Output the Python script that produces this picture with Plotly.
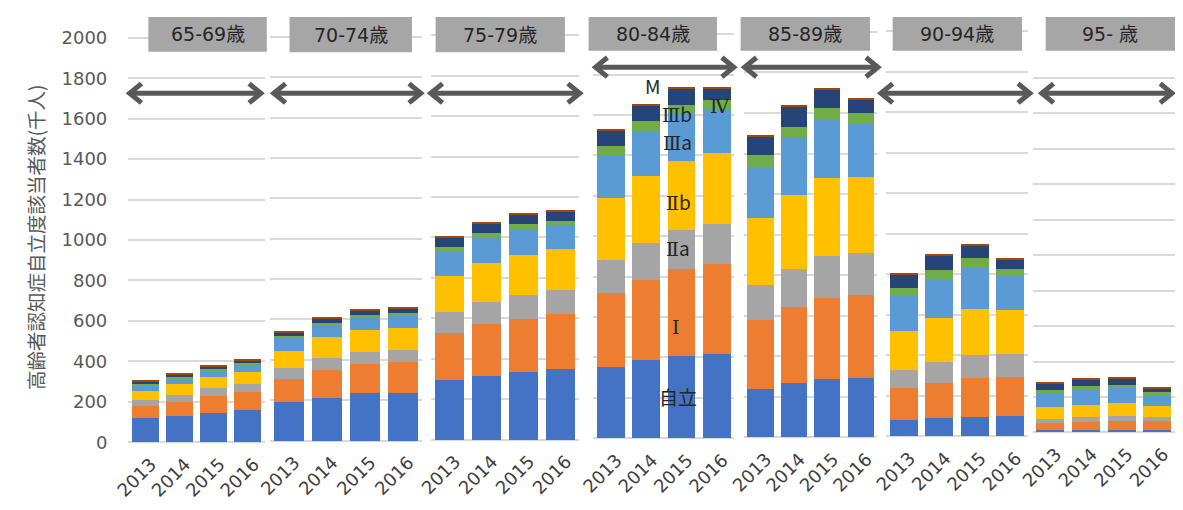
import plotly.graph_objects as go

# page is 1183x510; the browser's default 8px body margin surrounds the figure
PAGE_W, PAGE_H = 1183, 510
OFF = 8
W, H = PAGE_W - 2 * OFF, PAGE_H - 2 * OFF

years = ["2013", "2014", "2015", "2016"]
age_groups = ["65-69歳", "70-74歳", "75-79歳", "80-84歳", "85-89歳", "90-94歳", "95- 歳"]
levels = ["自立", "Ⅰ", "Ⅱa", "Ⅱb", "Ⅲa", "Ⅲb", "Ⅳ", "M"]
colors = ["#4472C4", "#ED7D31", "#A5A5A5", "#FFC000", "#5B9BD5", "#70AD47", "#264478", "#9E480E"]

# values (thousand persons), 7 age groups x 4 years, group-major order
v_jiritsu = [119, 132, 146, 161, 189, 213, 234, 238, 297, 316, 337, 348, 355, 385, 408, 419,
             238, 269, 285, 294, 81, 91, 97, 100, 16, 16, 16, 16]
v_1 = [61, 69, 81, 86, 118, 139, 144, 151, 230, 257, 261, 274, 366, 400, 428, 441,
       342, 372, 400, 410, 159, 173, 192, 194, 38, 42, 46, 46]
v_2a = [27, 35, 40, 39, 55, 59, 62, 61, 103, 108, 116, 119, 163, 183, 197, 202,
        169, 190, 207, 207, 87, 103, 113, 113, 24, 31, 32, 27]
v_2b = [45, 50, 56, 61, 84, 101, 106, 107, 178, 192, 200, 202, 307, 328, 341, 349,
        331, 366, 385, 375, 193, 218, 228, 215, 67, 67, 73, 62]
v_3a = [32, 30, 34, 35, 61, 61, 67, 65, 119, 125, 127, 119, 210, 226, 236, 218,
        252, 278, 287, 258, 173, 192, 203, 167, 75, 85, 85, 61]
v_3b = [4, 9, 6, 8, 10, 9, 9, 8, 24, 23, 24, 22, 45, 46, 41, 43,
        59, 58, 59, 55, 40, 45, 45, 38, 21, 22, 17, 17]
v_4 = [15, 13, 15, 16, 19, 24, 24, 26, 47, 46, 45, 41, 75, 80, 78, 59,
       89, 95, 91, 69, 65, 70, 63, 46, 35, 36, 34, 16]
v_m = [3, 3, 4, 5, 5, 5, 5, 5, 8, 8, 6, 7, 9, 8, 7, 9,
       10, 10, 9, 6, 8, 9, 7, 5, 5, 6, 6, 7]
series = [v_jiritsu, v_1, v_2a, v_2b, v_3a, v_3b, v_4, v_m]

y_ticks = list(range(0, 2001, 200))

# ---- layout geometry (page pixels) ----
# each panel: x_left, x_right (category range edges), y of value 0, y of value 2000
panels = [
    (114.3, 253.2, 448.4, 29.5),
    (257.75, 411.75, 446.7, 28.5),
    (421.0, 571.0, 445.7, 27.0),
    (585.6, 728.7, 444.3, 25.7),
    (738.0, 873.6, 443.2, 23.5),
    (882.6, 1025.9, 442.2, 22.7),
    (1030.7, 1175.0, 438.3, 71.0),
]
boxes = [(135, 255, 8, 44), (278, 402, 8, 44.5), (426, 557, 8, 44.5), (581, 711, 8, 43),
         (735, 866, 8, 43), (889, 1020, 8, 43), (1044, 1175, 8, 43)]
arrows = [(116, 249, 87), (262, 411, 87), (421, 572, 87), (588, 728, 60),
          (739, 874, 60), (877, 1028, 87), (1040, 1172, 87)]
labels_80 = [("M", 646, 79), ("Ⅲb", 671, 108), ("Ⅳ", 714, 100), ("Ⅲa", 671, 137),
             ("Ⅱb", 672, 199), ("Ⅱa", 672, 247), ("Ⅰ", 670, 329), ("自立", 672, 401)]


def px(x):
    return (x - OFF) / W


def py(y):
    return 1 - (y - OFF) / H


def styled(t):
    # Roman numerals drawn with a serif face, as in the original
    out = ""
    for ch in t:
        if ch in "ⅠⅡⅢⅣ":
            out += '<span style="font-family:DejaVu Serif">' + ch + "</span>"
        else:
            out += ch
    return out


fig = go.Figure()
RPAD = 10
for k, (xl, xr, y0, y2k) in enumerate(panels):
    sfx = "" if k == 0 else str(k + 1)
    for li, lev in enumerate(levels):
        fig.add_trace(go.Bar(
            x=years, y=series[li][4 * k:4 * k + 4], name=lev,
            marker=dict(color=colors[li], line=dict(width=0)),
            xaxis="x" + sfx, yaxis="y" + sfx, showlegend=False,
        ))
    s = (y0 - y2k) / 2000.0
    ydom = [py(y0 + RPAD * s), py(y2k - RPAD * s)]
    xdom = [px(xl), min(px(xr), 1.0)]
    fig.layout["xaxis" + sfx] = dict(
        domain=xdom, anchor="y" + sfx, type="category", range=[-0.5, 3.5],
        showgrid=False, zeroline=False, showline=False, ticks="",
        tickangle=-45, tickfont=dict(family="DejaVu Sans", size=18, color="#404040"),
        ticklabelstandoff=5, ticklabelshift=6, fixedrange=True,
    )
    fig.layout["yaxis" + sfx] = dict(
        domain=ydom, anchor="x" + sfx, range=[-RPAD, 2000 + RPAD],
        tickvals=y_ticks, showgrid=True, gridcolor="#D9D9D9", gridwidth=2,
        zeroline=False, showline=False,
        showticklabels=(k == 0), ticks="outside" if k == 0 else "",
        ticklen=16, tickcolor="rgba(0,0,0,0)",
        tickfont=dict(family="DejaVu Sans", size=18, color="#595959"), fixedrange=True,
    )

shapes = []
for (x0, x1, y0, y1) in boxes:
    shapes.append(dict(type="rect", xref="paper", yref="paper", x0=px(x0), x1=px(x1),
                       y0=py(y1), y1=py(y0), fillcolor="#A6A6A6", line=dict(width=0),
                       layer="above"))
AC = "#595959"
for (x0, x1, y) in arrows:
    shapes.append(dict(type="line", xref="paper", yref="paper", x0=px(x0 + 2), x1=px(x1 - 2),
                       y0=py(y), y1=py(y), line=dict(color=AC, width=5)))
    for tip, d in ((x0, 1), (x1, -1)):
        path = "M {:.5f},{:.5f} L {:.5f},{:.5f} L {:.5f},{:.5f}".format(
            px(tip + d * 12), py(y - 10), px(tip), py(y), px(tip + d * 12), py(y + 10))
        shapes.append(dict(type="path", xref="paper", yref="paper", path=path,
                           line=dict(color=AC, width=5)))

annotations = []
for (x0, x1, y0, y1), g in zip(boxes, age_groups):
    annotations.append(dict(text=g, xref="paper", yref="paper", x=px((x0 + x1) / 2),
                            y=py((y0 + y1) / 2), showarrow=False, xanchor="center",
                            yanchor="middle",
                            font=dict(family="DejaVu Sans, Noto Sans CJK JP", size=19,
                                      color="#262626")))
for t, x, y in labels_80:
    annotations.append(dict(text=styled(t), xref="paper", yref="paper", x=px(x), y=py(y),
                            showarrow=False, xanchor="center", yanchor="middle",
                            font=dict(family="Noto Sans CJK JP", size=19, color="#262626")))
annotations.append(dict(text="高齢者認知症自立度該当者数(千人)", xref="paper", yref="paper",
                        x=px(20), y=py(236), textangle=-90, showarrow=False,
                        xanchor="center", yanchor="middle",
                        font=dict(family="Noto Sans CJK JP", size=19.5, color="#595959")))

fig.update_layout(
    width=W, height=H, margin=dict(l=0, r=0, t=0, b=0),
    paper_bgcolor="white", plot_bgcolor="rgba(0,0,0,0)",
    barmode="stack", bargap=0.21, showlegend=False,
    shapes=shapes, annotations=annotations,
)

fig.write_html("out.html", config={"displayModeBar": False})
